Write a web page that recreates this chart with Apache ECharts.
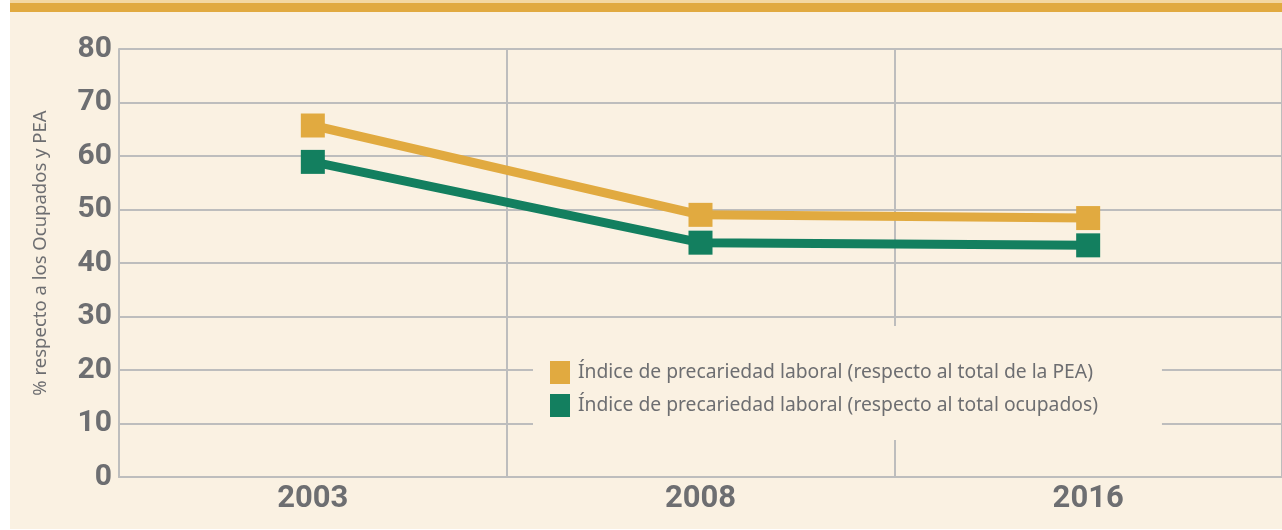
<!DOCTYPE html>
<html>
<head>
<meta charset="utf-8">
<script src="https://cdn.jsdelivr.net/npm/echarts@6/dist/echarts.min.js"></script>
<style>
  html, body { margin: 0; padding: 0; background: #ffffff; }
  .topband { position: absolute; left: 10px; top: 0; width: 1272px; height: 3px; background: #F3D8A2; }
  .band { position: absolute; left: 10px; top: 3px; width: 1272px; height: 9px; background: #E1AA40; }
  .chart { position: absolute; left: 10px; top: 12px; width: 1272px; height: 517px; }
</style>
</head>
<body>
<div class="topband"></div>
<div class="band"></div>
<div class="chart"></div>
<script>
// datos
var years = ['2003', '2008', '2016'];
var indicePEA = [65.7, 49.0, 48.4];
var indiceOcupados = [58.9, 43.8, 43.3];
var serieNames = [
    'Índice de precariedad laboral (respecto al total de la PEA)',
    'Índice de precariedad laboral (respecto al total ocupados)'
];

var chart = echarts.init(document.querySelector('.chart'));

var gris = '#6D6E71';
var lineaGris = '#BDBDBD';
var narrow = "'Liberation Sans Narrow', Roboto, sans-serif";

var option = {
    backgroundColor: '#FAF1E2',
    animation: false,
    grid: { left: 109, right: -3, top: 37, bottom: 52, containLabel: false },
    legend: {
        left: 523,
        top: 314,
        orient: 'vertical',
        backgroundColor: '#FAF1E2',
        padding: [35, 64, 23, 17],
        itemGap: 10,
        itemWidth: 20,
        itemHeight: 23,
        icon: 'rect',
        textStyle: { color: gris, fontSize: 19.3, fontFamily: "'Noto Sans', sans-serif", padding: [0, 0, 0, 3] },
        data: serieNames
    },
    xAxis: {
        type: 'category',
        data: years,
        boundaryGap: true,
        axisLine: { lineStyle: { color: lineaGris, width: 2 } },
        axisTick: { show: false },
        axisLabel: { color: gris, fontSize: 31, fontWeight: 'bold', fontFamily: narrow, margin: 7 },
        splitLine: { show: true, lineStyle: { color: lineaGris, width: 2 } }
    },
    yAxis: {
        type: 'value',
        min: 0,
        max: 80,
        interval: 10,
        name: '% respecto a los Ocupados y PEA',
        nameLocation: 'middle',
        nameGap: 69,
        nameTextStyle: { color: gris, fontSize: 18.5, fontFamily: "'Noto Sans', sans-serif", padding: [0, 0, 0, 20] },
        axisLine: { show: true, lineStyle: { color: lineaGris, width: 2 } },
        axisTick: { show: false },
        axisLabel: { color: gris, fontSize: 30, fontWeight: 'bold', fontFamily: narrow, margin: 7 },
        splitLine: { lineStyle: { color: lineaGris, width: 2 } }
    },
    series: [{
        name: serieNames[0],
        type: 'line',
        data: indicePEA,
        symbol: 'rect',
        symbolSize: 24,
        itemStyle: { color: '#E1AA40' },
        lineStyle: { color: '#E1AA40', width: 9 }
    }, {
        name: serieNames[1],
        type: 'line',
        data: indiceOcupados,
        symbol: 'rect',
        symbolSize: 24,
        itemStyle: { color: '#137F5F' },
        lineStyle: { color: '#137F5F', width: 9 }
    }]
};

chart.setOption(option);
</script>
</body>
</html>
